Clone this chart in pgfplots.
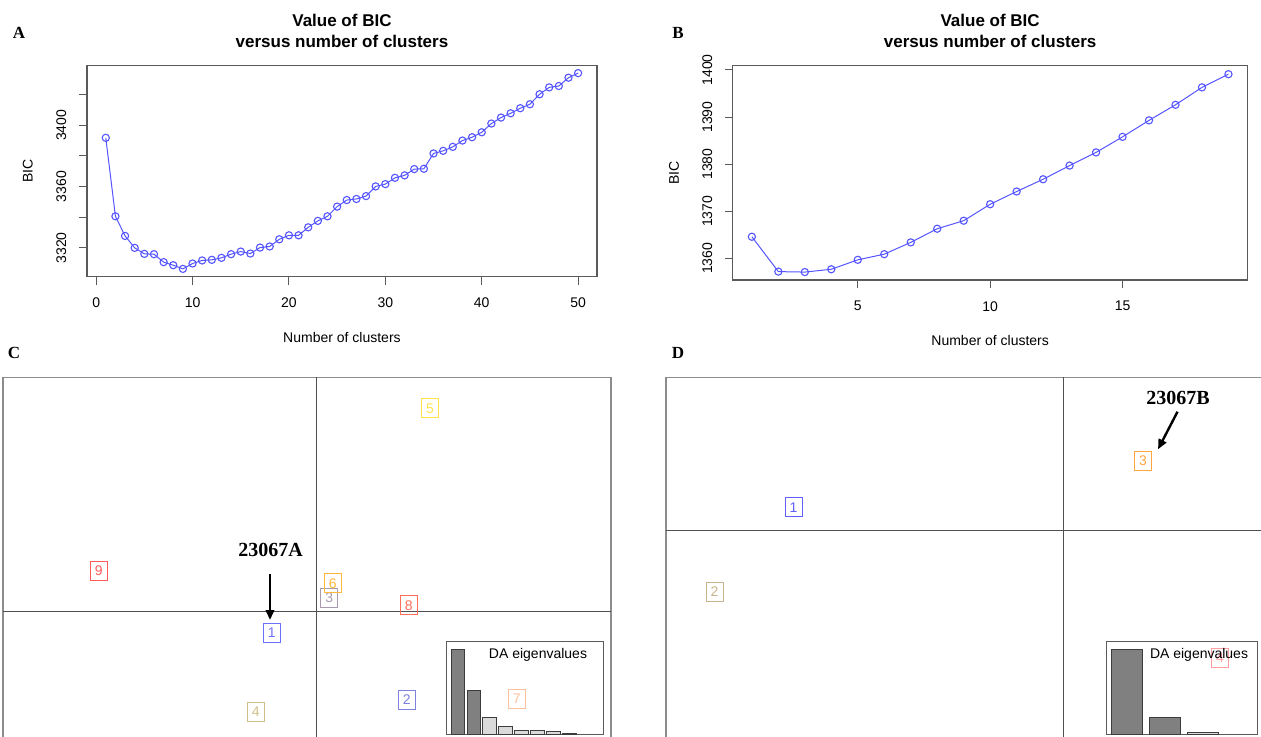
\documentclass[border=0pt]{standalone}
\usepackage{pgfplots}
\pgfplotsset{compat=1.18}
\usepackage{fontspec}
\setmainfont{Liberation Sans}
\newfontfamily\tnr{Liberation Serif}
\usetikzlibrary{arrows.meta}

\definecolor{bicline}{RGB}{85,85,255}
\definecolor{rframe}{HTML}{5A5A5A}
\definecolor{boxgray}{HTML}{8C8C8C}
\definecolor{crossgray}{HTML}{505050}
\definecolor{barDark}{HTML}{808080}
\definecolor{barLight}{HTML}{DADADA}
\definecolor{barEdge}{HTML}{3C3C3C}
% cluster colours, panel C
\definecolor{cc1}{HTML}{6F6FFF}
\definecolor{cc2}{HTML}{8080E0}
\definecolor{cc3}{HTML}{A89AB0}
\definecolor{cc4}{HTML}{CFC088}
\definecolor{cc5}{HTML}{FFE34D}
\definecolor{cc6}{HTML}{FFB838}
\definecolor{cc7}{HTML}{FFC0A0}
\definecolor{cc8}{HTML}{FF6E55}
\definecolor{cc9}{HTML}{FF5A5A}
% cluster colours, panel D
\definecolor{dc1}{HTML}{6060FF}
\definecolor{dc2}{HTML}{C8B48C}
\definecolor{dc3}{HTML}{FFA640}
\definecolor{dc4}{HTML}{FFA0A0}

\newcommand\tickfont{\fontsize{7}{8.4}\selectfont}
\newcommand\titlefont{\bfseries\fontsize{8.5}{10.5}\selectfont}
\newcommand\panelfont{\tnr\bfseries\fontsize{8.5}{10}\selectfont}
\newcommand\tagfont{\tnr\bfseries\fontsize{10}{12}\selectfont}
\newcommand\labfont{\fontsize{7}{8}\selectfont}

\pgfplotsset{
  bicaxis/.style={
    scale only axis, anchor=north west,
    axis line style={draw=rframe, line width=0.6pt},
    tick style={draw=rframe, line width=0.5pt},
    tick align=outside, tick pos=left, major tick length=4pt,
    tick label style={font=\tickfont}, label style={font=\tickfont},
    scaled ticks=false,
    /pgf/number format/1000 sep={}, /pgf/number format/assume math mode=true,
    xticklabel style={anchor=center, yshift=-9.1pt},
    yticklabel style={anchor=center, xshift=-8.8pt, rotate=90},
    title style={font=\titlefont, align=center, anchor=center},
    xlabel={Number of clusters}, ylabel={BIC},
  },
  bicplot/.style={color=bicline, line width=0.5pt, mark=o, mark size=1.8pt, mark options={line width=0.55pt}},
  dapc/.style={
    scale only axis, anchor=north west, clip=true,
    axis line style={draw=boxgray, line width=0.7pt},
    xtick=\empty, ytick=\empty,
  },
  lab/.style={only marks, mark=*, mark size=0pt, mark options={draw=none, fill=none},
    point meta=explicit symbolic, nodes near coords,
    nodes near coords style={anchor=center, draw=#1, text=#1, inner sep=0pt,
      minimum width=8.5pt, minimum height=9.5pt, line width=0.5pt, font=\labfont}},
  eig/.style={
    scale only axis, anchor=north west,
    axis line style={draw=rframe, line width=0.5pt},
    xtick=\empty, ytick=\empty, ymin=0,
    ybar, bar shift=0pt,
  },
}

\begin{document}
\begin{tikzpicture}
\useasboundingbox (0,0) rectangle (630.5pt,-368.5pt);
\clip (0,0) rectangle (630.5pt,-368.5pt);

% ---------- A ----------
\begin{axis}[bicaxis,
  at={(43.45pt,-32.65pt)}, width=255.05pt, height=105.7pt,
  xmin=-0.96, xmax=51.96, ymin=3301.2, ymax=3439.1,
  xtick={0,10,20,30,40,50},
  ytick={3320,3340,3360,3380,3400,3420}, yticklabels={3320,,3360,,3400,},
  title={Value of BIC\\versus number of clusters},
  title style={at={(axis description cs:0.5,1.107)}},
  xlabel style={at={(axis description cs:0.5,-0.287)}, anchor=center},
  ylabel style={at={(axis description cs:-0.116,0.5)}, anchor=center},
]
\addplot[bicplot] coordinates {
 (1,3391.8) (2,3340.6) (3,3327.8) (4,3320.0) (5,3316.1) (6,3315.9) (7,3310.7) (8,3308.7) (9,3306.3) (10,3309.8)
 (11,3311.8) (12,3312.2) (13,3313.5) (14,3315.9) (15,3317.6) (16,3316.3) (17,3320.2) (18,3320.9) (19,3325.6) (20,3328.2)
 (21,3328.2) (22,3333.4) (23,3337.6) (24,3340.6) (25,3346.9) (26,3351.2) (27,3351.9) (28,3353.8) (29,3360.1) (30,3361.6)
 (31,3365.7) (32,3367.3) (33,3371.4) (34,3371.6) (35,3381.6) (36,3383.3) (37,3385.9) (38,3390.0) (39,3392.2) (40,3395.4)
 (41,3401.1) (42,3405.0) (43,3407.8) (44,3411.1) (45,3413.7) (46,3420.2) (47,3424.7) (48,3425.6) (49,3431.0) (50,3434.0)};
\end{axis}

% ---------- B ----------
\begin{axis}[bicaxis,
  at={(366.4pt,-32.85pt)}, width=257.35pt, height=107.15pt,
  xmin=0.28, xmax=19.72, ymin=1355.42, ymax=1400.9,
  xtick={5,10,15}, ytick={1360,1370,1380,1390,1400},
  title={Value of BIC\\versus number of clusters},
  title style={at={(axis description cs:0.5,1.104)}},
  xlabel style={at={(axis description cs:0.5,-0.283)}, anchor=center},
  ylabel style={at={(axis description cs:-0.114,0.5)}, anchor=center},
]
\addplot[bicplot] coordinates {
 (1,1364.6) (2,1357.2) (3,1357.1) (4,1357.7) (5,1359.7) (6,1360.9) (7,1363.4) (8,1366.3) (9,1368.0) (10,1371.5)
 (11,1374.2) (12,1376.8) (13,1379.7) (14,1382.5) (15,1385.8) (16,1389.3) (17,1392.6) (18,1396.3) (19,1399.1)};
\end{axis}

% ---------- C ----------
\begin{axis}[dapc,
  at={(1.6pt,-188.85pt)}, width=303.9pt, height=196.15pt,
  xmin=-6.262, xmax=5.894, ymin=-3.18, ymax=4.666,
]
\draw[crossgray, line width=0.5pt] (axis cs:0,-20) -- (axis cs:0,20);
\draw[crossgray, line width=0.5pt] (axis cs:-20,0) -- (axis cs:20,0);
\addplot[lab=cc1] coordinates {(-0.892,-0.434) [1]};
\addplot[lab=cc2] coordinates {(1.808,-1.774) [2]};
\addplot[lab=cc3] coordinates {(0.260,0.260) [3]};
\addplot[lab=cc4] coordinates {(-1.212,-2.014) [4]};
\addplot[lab=cc5] coordinates {(2.274,4.054) [5]};
\addplot[lab=cc6] coordinates {(0.328,0.554) [6]};
\addplot[lab=cc7] coordinates {(4.008,-1.760) [7]};
\addplot[lab=cc8] coordinates {(1.848,0.114) [8]};
\addplot[lab=cc9] coordinates {(-4.352,0.806) [9]};
\node[font=\tagfont] at (axis cs:-0.912,1.22) {23067A};
\draw[line width=1.2pt, -{Triangle[length=5pt,width=4.2pt]}] (axis cs:-0.926,0.734) -- (axis cs:-0.926,-0.18);
\end{axis}

\begin{axis}[eig,
  at={(223pt,-320.75pt)}, width=78.5pt, height=46.25pt,
  xmin=0.266, xmax=10.11, ymax=110.1, bar width=0.834,
]
\addplot[fill=barDark, draw=barEdge, line width=0.5pt] coordinates {(1,100) (2,51.2)};
\addplot[fill=barLight, draw=barEdge, line width=0.5pt] coordinates {(3,19.4) (4,9) (5,3.6) (6,3.6) (7,2.4) (8,1.2)};
\node[font=\tickfont] at (rel axis cs:0.586,0.854) {DA eigenvalues};
\end{axis}

% ---------- D ----------
\begin{axis}[dapc,
  at={(333pt,-188.65pt)}, width=317pt, height=196.35pt,
  xmin=-7.95, xmax=4.73, ymin=-4.794, ymax=3.06,
]
\draw[crossgray, line width=0.5pt] (axis cs:0,-20) -- (axis cs:0,20);
\draw[crossgray, line width=0.5pt] (axis cs:-20,0) -- (axis cs:20,0);
\addplot[lab=dc1] coordinates {(-5.40,0.460) [1]};
\addplot[lab=dc2] coordinates {(-6.98,-1.228) [2]};
\addplot[lab=dc3] coordinates {(1.59,1.386) [3]};
\addplot[lab=dc4] coordinates {(3.13,-2.554) [4]};
\node[font=\tagfont] at (axis cs:2.29,2.654) {23067B};
\draw[line width=1.2pt, -{Triangle[length=5pt,width=4.2pt]}] (axis cs:2.28,2.372) -- (axis cs:1.89,1.62);
\end{axis}

\begin{axis}[eig,
  at={(553pt,-320.5pt)}, width=75.5pt, height=46.5pt,
  xmin=0.439, xmax=4.434, ymax=110.7, bar width=0.82,
]
\addplot[fill=barDark, draw=barEdge, line width=0.5pt] coordinates {(1,100) (2,20.2)};
\addplot[fill=barLight, draw=barEdge, line width=0.5pt] coordinates {(3,1.5)};
\node[font=\tickfont] at (rel axis cs:0.616,0.849) {DA eigenvalues};
\end{axis}

% panel letters
\node[font=\panelfont] at (9.5pt,-16.5pt) {A};
\node[font=\panelfont] at (339pt,-16.5pt) {B};
\node[font=\panelfont] at (7pt,-176.5pt) {C};
\node[font=\panelfont] at (339pt,-176.5pt) {D};
\end{tikzpicture}
\end{document}
